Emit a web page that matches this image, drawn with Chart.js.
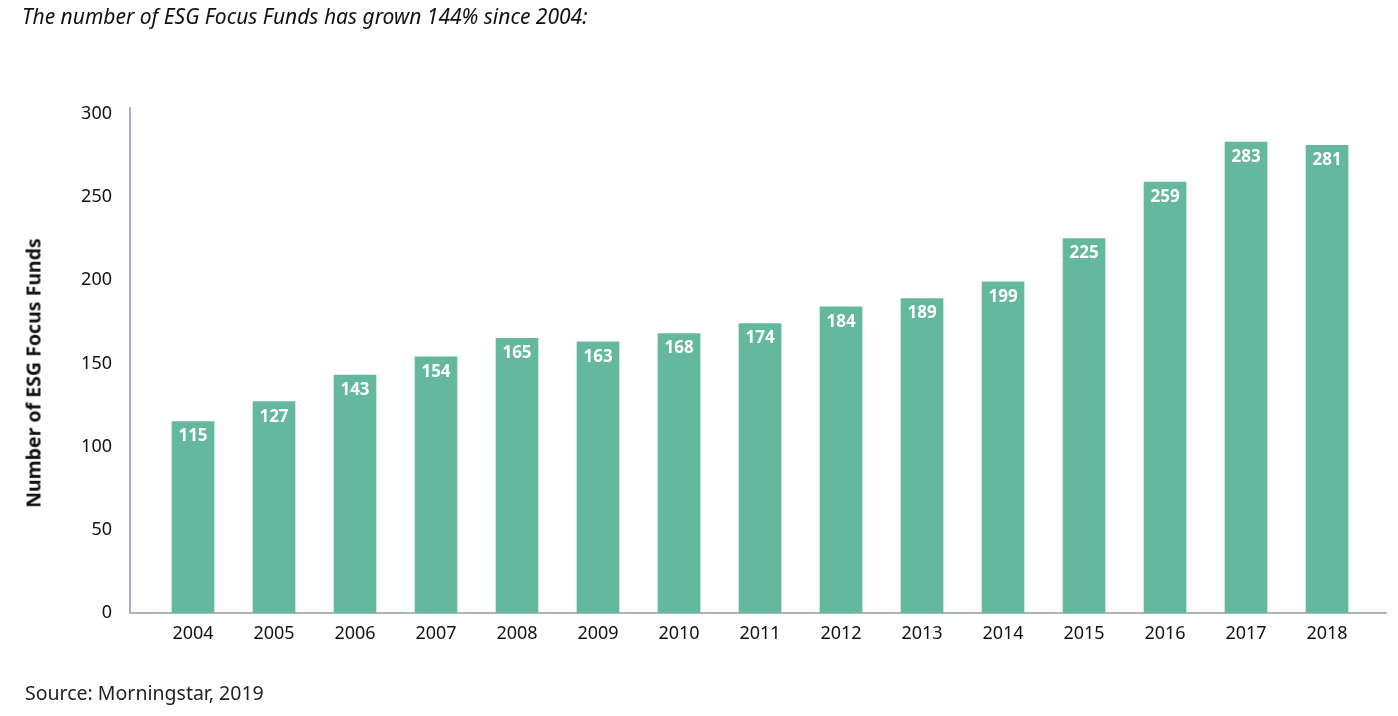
<!DOCTYPE html>
<html>
<head>
<meta charset="utf-8">
<script src="https://cdn.jsdelivr.net/npm/chart.js@4/dist/chart.umd.min.js"></script>
<style>
  html, body { margin: 0; padding: 0; background: #fff; }
  #wrap { position: absolute; left: 0; top: 0; width: 1398px; height: 716px; }
  #title { position: absolute; left: 22px; top: 2px; font: italic 21px "Noto Sans", sans-serif; color: #111; white-space: nowrap; }
  #source { position: absolute; left: 25px; top: 679px; font: 19.5px "Noto Sans", sans-serif; color: #222; white-space: nowrap; }
  #ytitle { position: absolute; left: 33px; top: 373px; transform: translate(-50%, -50%) rotate(-90deg); font: bold 19.5px "Noto Sans", sans-serif; color: #111; white-space: nowrap; }
  canvas { position: absolute; left: 0; top: 0; }
</style>
</head>
<body>
<div id="wrap">
  <canvas id="c" width="1398" height="716"></canvas>
  <div id="title">The number of ESG Focus Funds has grown 144% since 2004:</div>
  <div id="ytitle"></div>
  <div id="source">Source: Morningstar, 2019</div>
</div>
<script>
const years = ["2004","2005","2006","2007","2008","2009","2010","2011","2012","2013","2014","2015","2016","2017","2018"];
const fundCounts = [115,127,143,154,165,163,168,174,184,189,199,225,259,283,281];
const yTicks = [0,50,100,150,200,250,300];
const yAxisTitle = "Number of ESG Focus Funds";

document.getElementById("ytitle").textContent = yAxisTitle;

const barColor = "#63b89e";
const axisColor = "#aab4bc";

const valueLabels = {
  id: "valueLabels",
  afterDatasetsDraw(chart) {
    const ctx = chart.ctx;
    const meta = chart.getDatasetMeta(0);
    ctx.save();
    ctx.fillStyle = "#ffffff";
    ctx.font = "bold 17px 'Noto Sans', sans-serif";
    ctx.textAlign = "center";
    ctx.textBaseline = "middle";
    meta.data.forEach((bar, i) => {
      ctx.fillText(String(fundCounts[i]), bar.x, bar.y + 15);
    });
    ctx.restore();
  }
};

new Chart(document.getElementById("c"), {
  type: "bar",
  data: {
    datasets: [{
      data: fundCounts.map((v, i) => ({ x: i, y: v })),
      backgroundColor: barColor,
      borderWidth: 0,
      barThickness: 42
    }]
  },
  options: {
    responsive: false,
    animation: false,
    devicePixelRatio: 1,
    layout: { padding: { left: 0, right: 12, top: 108, bottom: 0 } },
    plugins: { legend: { display: false }, tooltip: { enabled: false }, title: { display: false } },
    scales: {
      x: {
        type: "linear",
        offset: false,
        min: -0.7778,
        max: 14.728,
        grid: { display: false, drawTicks: false, offset: false },
        border: { display: true, color: axisColor, width: 2 },
        afterBuildTicks(scale) {
          scale.ticks = years.map((y, i) => ({ value: i }));
        },
        ticks: {
          autoSkip: false,
          maxRotation: 0,
          padding: 10,
          color: "#111",
          font: { family: "'Noto Sans', sans-serif", size: 18 },
          callback: (v) => years[v] ?? ""
        },
        afterFit(scale) { scale.height = 103; }
      },
      y: {
        min: 0,
        max: 303.5,
        grid: { display: false, drawTicks: false },
        border: { display: true, color: axisColor, width: 2 },
        afterBuildTicks(scale) {
          scale.ticks = yTicks.map(v => ({ value: v }));
        },
        ticks: {
          padding: 18,
          color: "#111",
          font: { family: "'Noto Sans', sans-serif", size: 18 }
        },
        afterFit(scale) { scale.width = 130; }
      }
    }
  },
  plugins: [valueLabels]
});
</script>
</body>
</html>
